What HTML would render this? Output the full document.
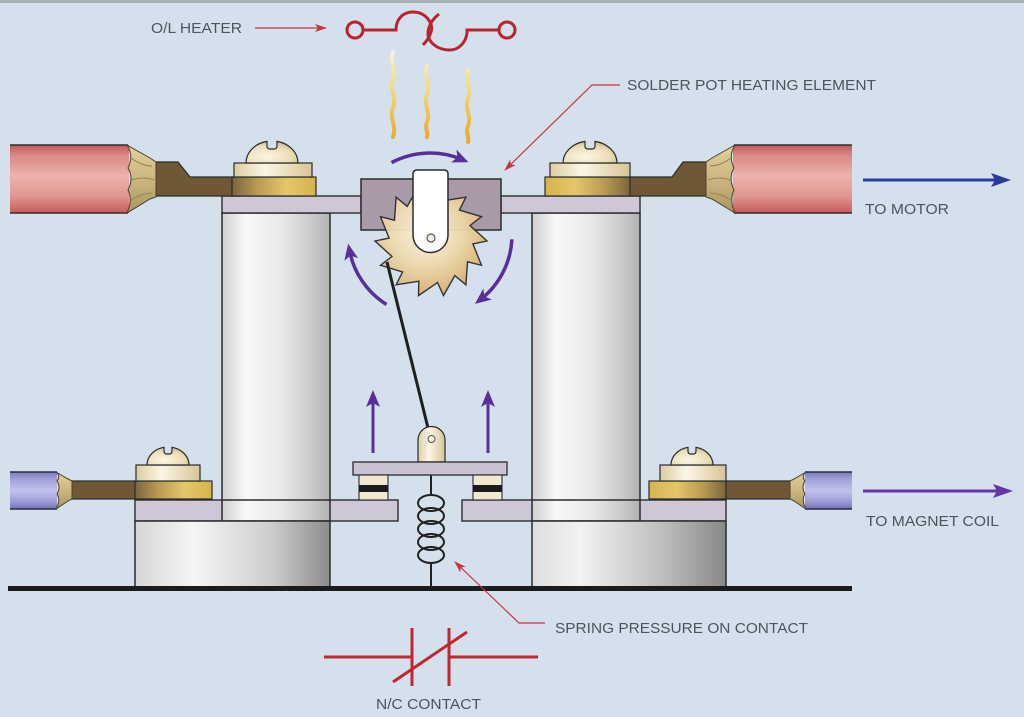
<!DOCTYPE html>
<html><head><meta charset="utf-8">
<style>
html,body{margin:0;padding:0;background:#d4e0ec;}
svg{display:block;}
text{font-family:"Liberation Sans",Arial,sans-serif;fill:#4d545d;font-size:14.5px;}
</style></head><body>
<svg width="1024" height="717" viewBox="0 0 1024 717" xmlns="http://www.w3.org/2000/svg">
<defs>
<linearGradient id="col" x1="0" y1="0" x2="1" y2="0">
<stop offset="0" stop-color="#cfcfcf"/><stop offset="0.22" stop-color="#f8f8f8"/><stop offset="0.55" stop-color="#e9e9e9"/><stop offset="0.85" stop-color="#c8c8c8"/><stop offset="1" stop-color="#b2b2b2"/>
</linearGradient>
<linearGradient id="baseL" x1="0" y1="0" x2="1" y2="0">
<stop offset="0" stop-color="#d6d6d6"/><stop offset="0.3" stop-color="#f5f5f5"/><stop offset="0.7" stop-color="#cdcdcd"/><stop offset="1" stop-color="#8c8c8c"/>
</linearGradient>
<linearGradient id="baseR" x1="0" y1="0" x2="1" y2="0">
<stop offset="0" stop-color="#dedede"/><stop offset="0.25" stop-color="#f2f2f2"/><stop offset="0.7" stop-color="#bababa"/><stop offset="1" stop-color="#888888"/>
</linearGradient>
<linearGradient id="red" x1="0" y1="0" x2="0" y2="1">
<stop offset="0" stop-color="#c25a5c"/><stop offset="0.15" stop-color="#d98886"/><stop offset="0.45" stop-color="#edb2ac"/><stop offset="0.75" stop-color="#e29690"/><stop offset="1" stop-color="#c65a5c"/>
</linearGradient>
<linearGradient id="blue" x1="0" y1="0" x2="0" y2="1">
<stop offset="0" stop-color="#7c7cc0"/><stop offset="0.2" stop-color="#a2a2d8"/><stop offset="0.5" stop-color="#c2c2ec"/><stop offset="0.8" stop-color="#9c9cd6"/><stop offset="1" stop-color="#7070b8"/>
</linearGradient>
<linearGradient id="fray" x1="0" y1="0" x2="0" y2="1">
<stop offset="0" stop-color="#e2d29c"/><stop offset="0.5" stop-color="#cbb67e"/><stop offset="1" stop-color="#a8975e"/>
</linearGradient>
<linearGradient id="goldL" x1="0" y1="0" x2="1" y2="0">
<stop offset="0" stop-color="#7b6540"/><stop offset="0.3" stop-color="#b89b52"/><stop offset="0.65" stop-color="#e4c76c"/><stop offset="1" stop-color="#d6b24a"/>
</linearGradient>
<linearGradient id="goldR" x1="0" y1="0" x2="1" y2="0">
<stop offset="0" stop-color="#d6b24a"/><stop offset="0.35" stop-color="#e4c76c"/><stop offset="0.7" stop-color="#b89b52"/><stop offset="1" stop-color="#7b6540"/>
</linearGradient>
<linearGradient id="cream" x1="0" y1="0" x2="1" y2="0">
<stop offset="0" stop-color="#ddcc9f"/><stop offset="0.4" stop-color="#fbf6e6"/><stop offset="1" stop-color="#d8c596"/>
</linearGradient>
<radialGradient id="dome" cx="0.4" cy="0.7" r="0.7">
<stop offset="0" stop-color="#fbf6e6"/><stop offset="0.7" stop-color="#ebdcb4"/><stop offset="1" stop-color="#cdb88a"/>
</radialGradient>
<radialGradient id="gear" cx="0.45" cy="0.4" r="0.6">
<stop offset="0" stop-color="#fbf4e4"/><stop offset="0.55" stop-color="#eed8aa"/><stop offset="1" stop-color="#d8b070"/>
</radialGradient>
<linearGradient id="heat" gradientUnits="userSpaceOnUse" x1="0" y1="50" x2="0" y2="142">
<stop offset="0" stop-color="#f6f2e2"/><stop offset="0.4" stop-color="#f3dc82"/><stop offset="1" stop-color="#eaa820"/>
</linearGradient>
<marker id="pa" markerUnits="userSpaceOnUse" viewBox="0 0 16 14" markerWidth="16" markerHeight="14" refX="9" refY="7" orient="auto">
<path d="M0,0 L16,7 L0,14 L4,7 Z" fill="#5a2e9a"/>
</marker>
<marker id="ra" markerUnits="userSpaceOnUse" viewBox="0 0 12 8" markerWidth="12" markerHeight="8" refX="11" refY="4" orient="auto">
<path d="M0,0 L12,4 L0,8 L3,4 Z" fill="#c8343e"/>
</marker>
</defs>

<rect width="1024" height="717" fill="#d4e0ec"/>
<rect width="1024" height="3" fill="#a8b0b8"/>

<!-- lower plates -->
<rect x="135" y="500" width="263" height="21" fill="#cec7d8" stroke="#2b2b2b" stroke-width="1.4"/>
<rect x="462" y="500" width="264" height="21" fill="#cec7d8" stroke="#2b2b2b" stroke-width="1.4"/>

<!-- columns -->
<rect x="222" y="213" width="108" height="308" fill="url(#col)" stroke="#2b2b2b" stroke-width="1.5"/>
<rect x="532" y="213" width="108" height="308" fill="url(#col)" stroke="#2b2b2b" stroke-width="1.5"/>
<line x1="222" y1="500" x2="330" y2="500" stroke="#2b2b2b" stroke-width="1.4"/>
<line x1="532" y1="500" x2="640" y2="500" stroke="#2b2b2b" stroke-width="1.4"/>

<!-- base blocks -->
<rect x="135" y="521" width="195" height="66" fill="url(#baseL)" stroke="#2b2b2b" stroke-width="1.5"/>
<rect x="532" y="521" width="194" height="66" fill="url(#baseR)" stroke="#2b2b2b" stroke-width="1.5"/>

<!-- top plates -->
<rect x="222" y="196" width="139" height="17" fill="#cec7d8" stroke="#2b2b2b" stroke-width="1.4"/>
<rect x="501" y="196" width="139" height="17" fill="#cec7d8" stroke="#2b2b2b" stroke-width="1.4"/>

<!-- heating element box -->
<rect x="361" y="179" width="140" height="51" fill="#a99aaa" stroke="#2b2b2b" stroke-width="1.5"/>

<!-- gear -->
<polygon transform="translate(0,3)" opacity="0.94" fill="url(#gear)" stroke="#2b2b2b" stroke-width="1.4" stroke-linejoin="miter"
points="487,238 472.9,240.9 481.5,262.3 467.5,258.8 465.9,281.8 454.8,272.6 443.5,292.6 437.5,279.5 418.5,292.6 418.8,278.2 396.1,281.8 402.6,268.9 380.5,262.3 392,253.5 375,238 389.1,235.1 380.5,213.7 394.5,217.2 396.1,194.2 407.2,203.4 418.5,183.4 424.5,196.5 443.5,183.4 443.2,197.8 465.9,194.2 459.4,207.1 481.5,213.7 470,222.5"/>

<!-- lever -->
<path d="M413,174 Q413,170 417,170 L444,170 Q448,170 448,174 L448,235 A17.5,17.5 0 0 1 413,235 Z" fill="#ffffff" stroke="#2b2b2b" stroke-width="1.5"/>
<circle cx="431" cy="238" r="4" fill="#f6f1e6" stroke="#555" stroke-width="1.2"/>

<!-- push rod -->
<line x1="387" y1="262" x2="429" y2="432" stroke="#1f1f1f" stroke-width="3"/>

<!-- curved arrows -->
<g fill="none" stroke="#5a2e9a" stroke-width="3.5">
<path d="M391.5,162.6 A82,82 0 0 1 462,159.5" marker-end="url(#pa)"/>
<path d="M386.5,304.5 A82,82 0 0 1 349.5,250.6" marker-end="url(#pa)"/>
<path d="M511.9,239.3 A82,82 0 0 1 480.5,299.6" marker-end="url(#pa)"/>
</g>

<!-- heat squiggles -->
<g fill="none" stroke="url(#heat)" stroke-width="4" stroke-linecap="round">
<path d="M393,52 C389,62 397,70 393,80 C389,90 397,98 393,108 C389,118 397,126 393,137"/>
<path d="M427,66 C423,76 431,84 427,94 C423,104 431,112 427,122 C424,128 429,133 427,137"/>
<path d="M468,70 C464,80 472,88 468,98 C464,108 472,116 468,126 C465,132 470,138 468,142"/>
</g>

<!-- O/L heater symbol -->
<g fill="none" stroke="#b8242c" stroke-width="3">
<circle cx="355" cy="30" r="8"/>
<circle cx="507" cy="30" r="8"/>
<path d="M363,30 L396,30 C396,18 404,12 413,12 C426,12 434,24 431,32 C429,38 426,42 423,45"/>
<path d="M439,14 C429,22 424,34 432,43 C437,48 443,50 450,50 C459,50 466,42 467,33 L467,30 L499,30"/>
</g>
<text x="151" y="33" textLength="91" lengthAdjust="spacingAndGlyphs">O/L HEATER</text>
<line x1="255" y1="28" x2="326" y2="28" stroke="#c8343e" stroke-width="1.3" marker-end="url(#ra)"/>

<!-- solder pot label -->
<text x="627" y="90" textLength="249" lengthAdjust="spacingAndGlyphs">SOLDER POT HEATING ELEMENT</text>
<polyline points="620,85 592,85 505,170" fill="none" stroke="#c8343e" stroke-width="1.2" marker-end="url(#ra)"/>

<!-- top left wire -->
<rect x="10" y="145" width="119" height="68" fill="url(#red)"/>
<line x1="10" y1="145" x2="128" y2="145" stroke="#3a2a2a" stroke-width="1.5"/>
<line x1="10" y1="213" x2="128" y2="213" stroke="#3a2a2a" stroke-width="1.5"/>
<path d="M155,162 L178,162 L190,177 L240,177 L240,196 L155,196 Z" fill="#6e5836" stroke="#2b2b2b" stroke-width="1.2"/>
<path d="M127,145 L150,158 L156,162 L156,197 L150,199 L127,213 Q133,200 128,190 Q134,178 128,168 Q134,156 127,145 Z" fill="url(#fray)" stroke="#4a4030" stroke-width="1"/>
<path d="M131,158 Q142,166 152,166 M132,180 Q143,176 154,180 M131,200 Q142,193 152,193" fill="none" stroke="#8a7a4a" stroke-width="0.8"/>
<rect x="232" y="177" width="84" height="19" fill="url(#goldL)" stroke="#2b2b2b" stroke-width="1.2"/>
<rect x="234" y="163" width="78" height="14" fill="url(#cream)" stroke="#2b2b2b" stroke-width="1.2"/>
<path d="M246,163 A26,22 0 0 1 267,141.4 L267,146 Q267,149 270,149 L274,149 Q277,149 277,146 L277,141.4 A26,22 0 0 1 298,163 Z" fill="url(#dome)" stroke="#2b2b2b" stroke-width="1.2"/>

<!-- top right wire -->
<rect x="733" y="145" width="119" height="68" fill="url(#red)"/>
<line x1="734" y1="145" x2="852" y2="145" stroke="#3a2a2a" stroke-width="1.5"/>
<line x1="734" y1="213" x2="852" y2="213" stroke="#3a2a2a" stroke-width="1.5"/>
<path d="M620,177 L672,177 L683,162 L708,162 L708,196 L620,196 Z" fill="#6e5836" stroke="#2b2b2b" stroke-width="1.2"/>
<path d="M735,145 L712,158 L706,162 L706,197 L712,199 L735,213 Q729,200 734,190 Q728,178 734,168 Q728,156 735,145 Z" fill="url(#fray)" stroke="#4a4030" stroke-width="1"/>
<path d="M731,158 Q720,166 710,166 M730,180 Q719,176 708,180 M731,200 Q720,193 710,193" fill="none" stroke="#8a7a4a" stroke-width="0.8"/>
<rect x="545" y="177" width="85" height="19" fill="url(#goldR)" stroke="#2b2b2b" stroke-width="1.2"/>
<rect x="550" y="163" width="80" height="14" fill="url(#cream)" stroke="#2b2b2b" stroke-width="1.2"/>
<path d="M563,163 A27,22 0 0 1 585,141.4 L585,146 Q585,149 588,149 L592,149 Q595,149 595,146 L595,141.4 A27,22 0 0 1 617,163 Z" fill="url(#dome)" stroke="#2b2b2b" stroke-width="1.2"/>

<!-- TO MOTOR -->
<line x1="863" y1="180" x2="995" y2="180" stroke="#2b3a9c" stroke-width="3"/>
<polygon points="1011,180 991,173 995,180 991,187" fill="#2b3a9c"/>
<text x="865" y="214" textLength="84" lengthAdjust="spacingAndGlyphs">TO MOTOR</text>

<!-- bottom left wire -->
<rect x="10" y="472" width="47" height="37" fill="url(#blue)"/>
<line x1="10" y1="472" x2="57" y2="472" stroke="#2b2b3a" stroke-width="1.5"/>
<line x1="10" y1="509" x2="57" y2="509" stroke="#2b2b3a" stroke-width="1.5"/>
<rect x="70" y="481" width="80" height="18" fill="#6e5836" stroke="#2b2b2b" stroke-width="1.2"/>
<path d="M56,472 L68,479 L72,481 L72,499 L68,501 L56,509 Q61,500 57,494 Q61,487 57,481 Q61,476 56,472 Z" fill="url(#fray)" stroke="#4a4030" stroke-width="1"/>
<rect x="135" y="481" width="77" height="18" fill="url(#goldL)" stroke="#2b2b2b" stroke-width="1.2"/>
<rect x="136" y="465" width="64" height="16" fill="url(#cream)" stroke="#2b2b2b" stroke-width="1.2"/>
<path d="M147,465 A21,18 0 0 1 164,447.3 L164,451 Q164,454 166.5,454 L169.5,454 Q172,454 172,451 L172,447.3 A21,18 0 0 1 189,465 Z" fill="url(#dome)" stroke="#2b2b2b" stroke-width="1.2"/>

<!-- bottom right wire -->
<rect x="805" y="472" width="47" height="37" fill="url(#blue)"/>
<line x1="805" y1="472" x2="852" y2="472" stroke="#2b2b3a" stroke-width="1.5"/>
<line x1="805" y1="509" x2="852" y2="509" stroke="#2b2b3a" stroke-width="1.5"/>
<rect x="712" y="481" width="80" height="18" fill="#6e5836" stroke="#2b2b2b" stroke-width="1.2"/>
<path d="M806,472 L794,479 L790,481 L790,499 L794,501 L806,509 Q801,500 805,494 Q801,487 805,481 Q801,476 806,472 Z" fill="url(#fray)" stroke="#4a4030" stroke-width="1"/>
<rect x="649" y="481" width="77" height="18" fill="url(#goldR)" stroke="#2b2b2b" stroke-width="1.2"/>
<rect x="660" y="465" width="66" height="16" fill="url(#cream)" stroke="#2b2b2b" stroke-width="1.2"/>
<path d="M671,465 A21,18 0 0 1 688,447.3 L688,451 Q688,454 690.5,454 L693.5,454 Q696,454 696,451 L696,447.3 A21,18 0 0 1 713,465 Z" fill="url(#dome)" stroke="#2b2b2b" stroke-width="1.2"/>

<!-- TO MAGNET COIL -->
<line x1="863" y1="491" x2="997" y2="491" stroke="#6636a6" stroke-width="3"/>
<polygon points="1013,491 993,484 997,491 993,498" fill="#6636a6"/>
<text x="866" y="526" textLength="133" lengthAdjust="spacingAndGlyphs">TO MAGNET COIL</text>

<!-- lower contact mechanism -->
<g fill="none" stroke="#222" stroke-width="2">
<line x1="431" y1="475" x2="431" y2="495"/>
<ellipse cx="431" cy="503" rx="13" ry="8"/>
<ellipse cx="431" cy="516" rx="13" ry="8"/>
<ellipse cx="431" cy="529" rx="13" ry="8"/>
<ellipse cx="431" cy="542" rx="13" ry="8"/>
<ellipse cx="431" cy="555" rx="13" ry="8"/>
<line x1="431" y1="563" x2="431" y2="588"/>
</g>
<path d="M418,462 L418,440 A13.5,13.5 0 0 1 445,440 L445,462 Z" fill="url(#cream)" stroke="#2b2b2b" stroke-width="1.2"/>
<circle cx="431.5" cy="439" r="3.5" fill="#f4ecd6" stroke="#555" stroke-width="1"/>
<rect x="353" y="462" width="154" height="13" fill="#c9c2d3" stroke="#2b2b2b" stroke-width="1.3"/>
<rect x="359" y="475" width="29" height="25" fill="#f0e8d0" stroke="#2b2b2b" stroke-width="1.1"/>
<rect x="359" y="485" width="29" height="7" fill="#1a1a1a"/>
<rect x="473" y="475" width="29" height="25" fill="#f0e8d0" stroke="#2b2b2b" stroke-width="1.1"/>
<rect x="473" y="485" width="29" height="7" fill="#1a1a1a"/>

<!-- up arrows -->
<line x1="373" y1="453" x2="373" y2="402" stroke="#5a2e9a" stroke-width="3"/>
<polygon points="373,390 366,407 373,403 380,407" fill="#5a2e9a"/>
<line x1="488" y1="453" x2="488" y2="402" stroke="#5a2e9a" stroke-width="3"/>
<polygon points="488,390 481,407 488,403 495,407" fill="#5a2e9a"/>

<!-- ground line -->
<line x1="8" y1="588.5" x2="852" y2="588.5" stroke="#1c1c1c" stroke-width="5"/>

<!-- spring label -->
<polyline points="545,623 519,623 455,562" fill="none" stroke="#c8343e" stroke-width="1.2" marker-end="url(#ra)"/>
<text x="555" y="633" textLength="253" lengthAdjust="spacingAndGlyphs">SPRING PRESSURE ON CONTACT</text>

<!-- N/C contact symbol -->
<g stroke="#c4262e" stroke-width="3" fill="none">
<line x1="324" y1="657" x2="412" y2="657"/>
<line x1="412" y1="628" x2="412" y2="686"/>
<line x1="449" y1="628" x2="449" y2="686"/>
<line x1="449" y1="657" x2="538" y2="657"/>
<line x1="393" y1="682" x2="467" y2="632"/>
</g>
<text x="376" y="709" textLength="105" lengthAdjust="spacingAndGlyphs">N/C CONTACT</text>
</svg>
</body></html>
